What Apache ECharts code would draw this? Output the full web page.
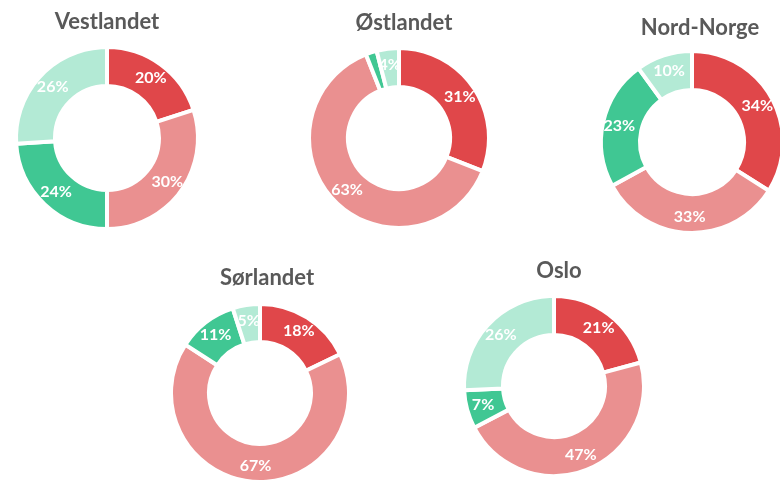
<!DOCTYPE html>
<html>
<head>
<meta charset="utf-8">
<script src="https://cdn.jsdelivr.net/npm/echarts@6/dist/echarts.min.js"></script>
<style>
  html, body { margin: 0; padding: 0; background: #fff; }
  #chart { width: 780px; height: 481px; }
</style>
</head>
<body>
<div id="chart"></div>
<script>
// data per region, clockwise from 12 o'clock
var regions = ["Vestlandet", "Østlandet", "Nord-Norge", "Sørlandet", "Oslo"];
var vestlandet = [20, 30, 24, 26];
var ostlandet = [31, 63, 2, 4];
var nordNorge = [34, 33, 23, 10];
var sorlandet = [18, 67, 11, 5];
var oslo = [21, 47, 7, 26];
var values = [vestlandet, ostlandet, nordNorge, sorlandet, oslo];

var colors = ["#e0474a", "#ea9090", "#40c793", "#b3ead5"];

// layout of each donut (center x, center y, outer radius) and title position
var centers = [[107, 138], [399, 138], [692, 142], [260, 393], [554, 386]];
var outerR = [91, 90, 91, 89, 90];
var titlePos = [[102, 6], [399, 7], [695, 12], [262, 262], [554, 255]];

var chart = echarts.init(document.getElementById("chart"));

var titles = regions.map(function(name, i) {
  return {
    text: name,
    left: titlePos[i][0],
    top: titlePos[i][1],
    textAlign: "center",
    textStyle: {
      fontFamily: "Lato",
      fontWeight: "bold",
      fontSize: 22,
      color: "#595959"
    }
  };
});

var series = regions.map(function(name, i) {
  return {
    name: name,
    type: "pie",
    center: centers[i],
    radius: [Math.round(outerR[i] * 0.57), outerR[i]],
    startAngle: 90,
    clockwise: true,
    silent: true,
    minShowLabelAngle: 0,
    itemStyle: {
      borderColor: "#fff",
      borderWidth: 4
    },
    label: {
      show: true,
      position: "inside",
      formatter: "{c}%",
      color: "#fff",
      fontFamily: "Lato",
      fontWeight: "bold",
      fontSize: 16
    },
    labelLine: { show: false },
    data: values[i].map(function(v, k) {
      return { value: v, itemStyle: { color: colors[k] } };
    })
  };
});

chart.setOption({
  animation: false,
  title: titles,
  series: series
});
</script>
</body>
</html>
